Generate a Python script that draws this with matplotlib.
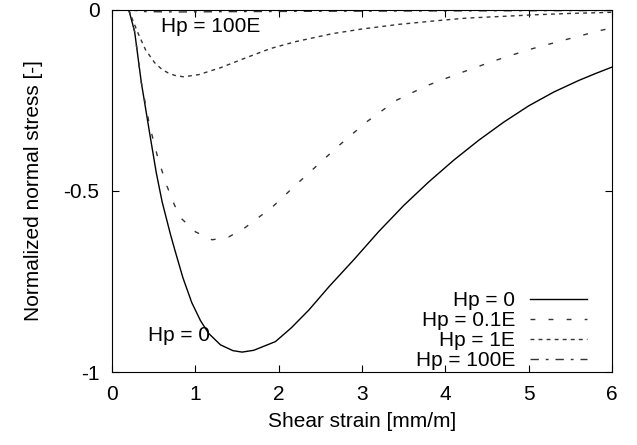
import matplotlib
matplotlib.use("Agg")
import matplotlib.pyplot as plt

plt.rcParams['font.family'] = ['Liberation Sans', 'DejaVu Sans']

# Hp = 0
x_0 = [0.2, 0.27, 0.35, 0.45, 0.53, 0.6, 0.7, 0.755, 0.85, 0.955, 1.06, 1.157, 1.3, 1.45,
       1.56, 1.7, 1.96, 2.15, 2.36, 2.6, 2.9, 3.2, 3.5, 3.8, 4.1, 4.4, 4.7, 5.0, 5.3,
       5.6, 5.8, 6.0]
y_0 = [0, -0.06, -0.20, -0.34, -0.45, -0.53, -0.62, -0.665, -0.74, -0.808, -0.858, -0.893,
       -0.925, -0.941, -0.945, -0.94, -0.916, -0.878, -0.829, -0.765, -0.69, -0.612,
       -0.54, -0.475, -0.415, -0.36, -0.31, -0.265, -0.227, -0.195, -0.176, -0.158]

# Hp = 0.1E
x_01 = [0.2, 0.27, 0.35, 0.45, 0.55, 0.655, 0.75, 0.835, 1.0, 1.2, 1.4, 1.58, 1.92, 2.24,
        2.72, 3.05, 3.41, 3.77, 4.17, 4.57, 5.0, 5.45, 5.86, 6.0]
y_01 = [0, -0.06, -0.20, -0.32, -0.41, -0.485, -0.54, -0.577, -0.613, -0.635, -0.627,
        -0.604, -0.545, -0.476, -0.375, -0.31, -0.25, -0.21, -0.175, -0.142, -0.11,
        -0.082, -0.057, -0.05]

# Hp = 1E
x_1 = [0.2, 0.25, 0.31, 0.4, 0.51, 0.6, 0.67, 0.75, 0.855, 1.04, 1.3, 1.6, 1.9, 2.2,
       2.64, 3.0, 3.45, 3.9, 4.25, 4.7, 5.05, 5.5, 6.0]
y_1 = [0, -0.03, -0.064, -0.11, -0.146, -0.165, -0.174, -0.181, -0.185, -0.179, -0.16,
       -0.133, -0.107, -0.088, -0.066, -0.053, -0.04, -0.03, -0.023, -0.018, -0.014,
       -0.01, -0.007]

# Hp = 100E
x_100 = [0.2, 0.4, 0.8, 1.5, 2.5, 4.0, 6.0]
y_100 = [0, -0.005, -0.006, -0.005, -0.004, -0.003, -0.002]

fig = plt.figure(figsize=(6.37, 4.45), dpi=100)
ax = fig.add_axes([0.176, 0.164, 0.785, 0.814])

ax.plot(x_0, y_0, color='black', lw=1.0, label='Hp = 0')
ax.plot(x_01, y_01, color='#333333', lw=1.0, dashes=(3.5, 9.5), label='Hp = 0.1E')
ax.plot(x_1, y_1, color='#333333', lw=1.0, dashes=(2.8, 3), label='Hp = 1E')
ax.plot(x_100, y_100, color='#333333', lw=1.0, dashes=(6, 5, 2, 5), label='Hp = 100E')

ax.text(0.59, -0.047, 'Hp = 100E', fontsize=15, va='center')
ax.text(0.43, -0.90, 'Hp = 0', fontsize=15, va='center')

ax.set_xlim(0, 6)
ax.set_ylim(-1, 0)
ax.set_xticks([0, 1, 2, 3, 4, 5, 6])
ax.set_yticks([-1, -0.5, 0])
ax.set_yticklabels(['-1', '-0.5', '0'])
ax.tick_params(direction='in', top=True, right=True, labelsize=15, length=5, pad=9)
ax.set_xlabel('Shear strain [mm/m]', fontsize=15, labelpad=6)
ax.set_ylabel('Normalized normal stress [-]', fontsize=15, labelpad=15)

ax.legend(loc='lower right', bbox_to_anchor=(0.95, 0.005), frameon=False,
          markerfirst=False, fontsize=15, handlelength=2.75, handletextpad=0.7,
          labelspacing=0.05, borderpad=0, borderaxespad=0)

fig.savefig('out.png')
